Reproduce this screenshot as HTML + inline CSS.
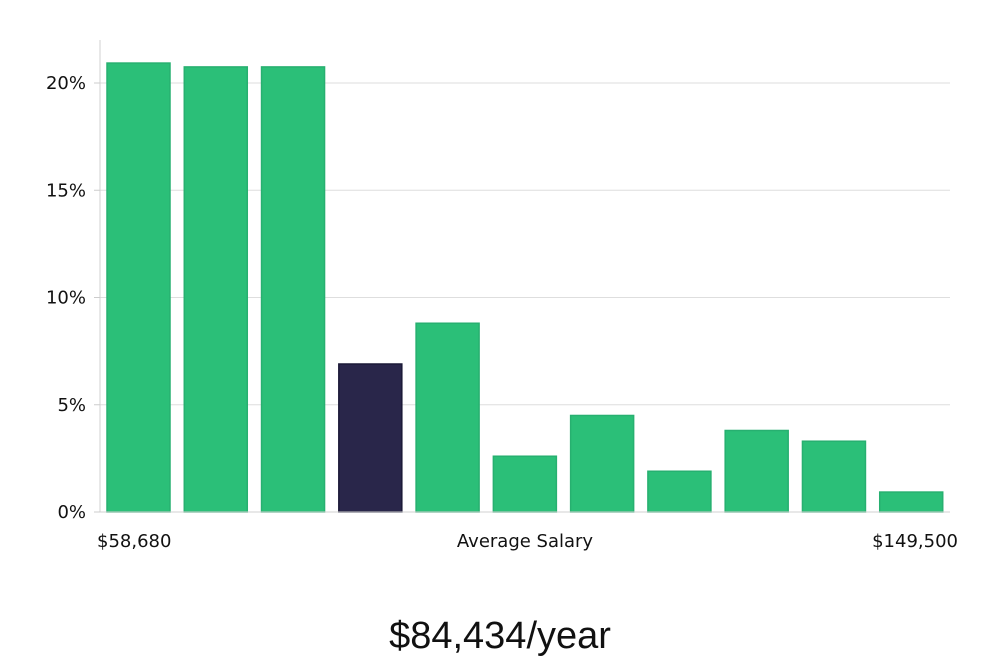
<!DOCTYPE html>
<html><head><meta charset="utf-8"><style>
body{margin:0;background:#fff;width:1000px;height:660px;overflow:hidden}
svg text{font-family:"DejaVu Sans","Liberation Sans",sans-serif;fill:#111}
</style></head><body>
<svg id="chart" width="1000" height="660" xmlns="http://www.w3.org/2000/svg">
<g id="grid"></g>
<g id="bars"></g>
<line x1="100" y1="40" x2="100" y2="512" stroke="#d0d0d0" stroke-width="1"/>
<line x1="100" y1="512" x2="950" y2="512" stroke="#d0d0d0" stroke-width="1"/>
<g id="yticks"></g>
<text x="97" y="547" font-size="18">$58,680</text>
<text x="525" y="547" font-size="18" text-anchor="middle">Average Salary</text>
<text x="958" y="547" font-size="18" text-anchor="end">$149,500</text>
<text x="500" y="648" font-size="38" text-anchor="middle" style="font-family:'Liberation Sans',sans-serif;font-weight:300">$84,434/year</text>
</svg>
<script>
const values=[20.93,20.75,20.75,6.9,8.8,2.6,4.5,1.9,3.8,3.3,0.93];
const highlight=[false,false,false,true,false,false,false,false,false,false,false];
const yTicks=[0,5,10,15,20];
const yTickLabels=["0%","5%","10%","15%","20%"];
const NS="http://www.w3.org/2000/svg";
const x0=100,x1=950,y0=512,pxPer=21.45;
const y=v=>y0-v*pxPer;
const band=(x1-x0)/values.length;
const xb=i=>x0+i*band+7;
const grid=document.getElementById('grid'),yt=document.getElementById('yticks'),bars=document.getElementById('bars');
yTicks.forEach((t,i)=>{
 if(t>0){const l=document.createElementNS(NS,'line');
 
 
 l.setAttribute('x1',x0);l.setAttribute('x2',x1);l.setAttribute('y1',y(t));l.setAttribute('y2',y(t));
 l.setAttribute('stroke','#dedede');grid.appendChild(l);}
 const tk=document.createElementNS(NS,'line');
 
 
 tk.setAttribute('x1',x0-6);tk.setAttribute('x2',x0);tk.setAttribute('y1',y(t));tk.setAttribute('y2',y(t));
 tk.setAttribute('stroke','#ccc');yt.appendChild(tk);
 const tx=document.createElementNS(NS,'text');
 
 
 tx.setAttribute('x',x0-14);tx.setAttribute('y',y(t)+6);tx.setAttribute('text-anchor','end');tx.setAttribute('font-size','18');
 tx.textContent=yTickLabels[i];yt.appendChild(tx);
});
values.forEach((v,i)=>{
 const r=document.createElementNS(NS,'rect');
 
 
 r.setAttribute('x',xb(i));r.setAttribute('width',63);
 r.setAttribute('y',y(v));r.setAttribute('height',y0-y(v));
 r.setAttribute('fill',highlight[i]?'#29264a':'#2bbf78');
 r.setAttribute('stroke',highlight[i]?'#1c1a38':'#27b070');r.setAttribute('stroke-width','1.5');
 bars.appendChild(r);
});
</script>
</body></html>
